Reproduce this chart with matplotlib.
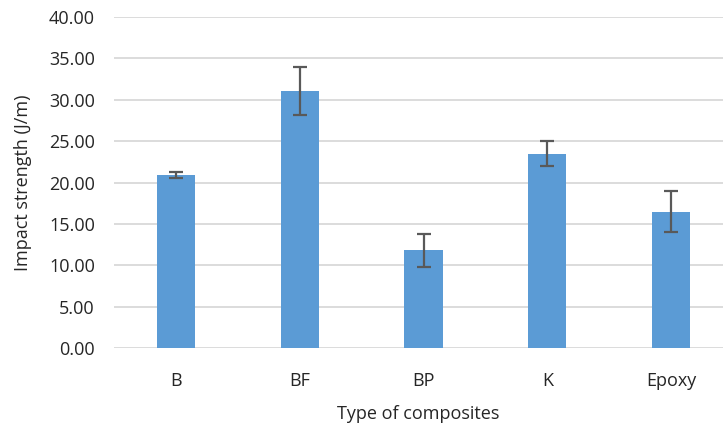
import matplotlib.pyplot as plt
import numpy as np

# data
categories = ['B', 'BF', 'BP', 'K', 'Epoxy']
strength = [20.9, 31.0, 11.8, 23.5, 16.5]
errors = [0.35, 2.9, 2.0, 1.5, 2.5]
yticks = [0, 5, 10, 15, 20, 25, 30, 35, 40]

plt.rcParams['font.family'] = ['Open Sans', 'DejaVu Sans']
text_col = '#262626'

fig = plt.figure(figsize=(7.23, 4.23), dpi=100)
ax = fig.add_axes([0.158, 0.177, 0.842, 0.783])

x = np.arange(len(categories))
ax.bar(x, strength, width=0.31, color='#5B9BD5', zorder=3)
ax.errorbar(x, strength, yerr=errors, fmt='none', ecolor='#595959',
            elinewidth=1.6, capsize=4.8, capthick=1.6, zorder=4)

ax.set_xlim(-0.5, 4.42)
ax.set_ylim(0, 40)
ax.set_yticks(yticks)
ax.set_yticklabels(['{:.2f}'.format(v) for v in yticks])
ax.set_xticks(x)
ax.set_xticklabels(categories)

ax.yaxis.grid(True, color='#D9D9D9', linewidth=1.3, zorder=0)
ax.set_axisbelow(True)
for s in ax.spines.values():
    s.set_visible(False)
ax.tick_params(axis='both', length=0, labelsize=13, colors=text_col)
ax.tick_params(axis='y', pad=14)
ax.tick_params(axis='x', pad=17)

ax.set_xlabel('Type of composites', fontsize=13, color=text_col, labelpad=11)
ax.set_ylabel('Impact strength (J/m)', fontsize=13, color=text_col, labelpad=12)

fig.savefig('out.png', dpi=100)
